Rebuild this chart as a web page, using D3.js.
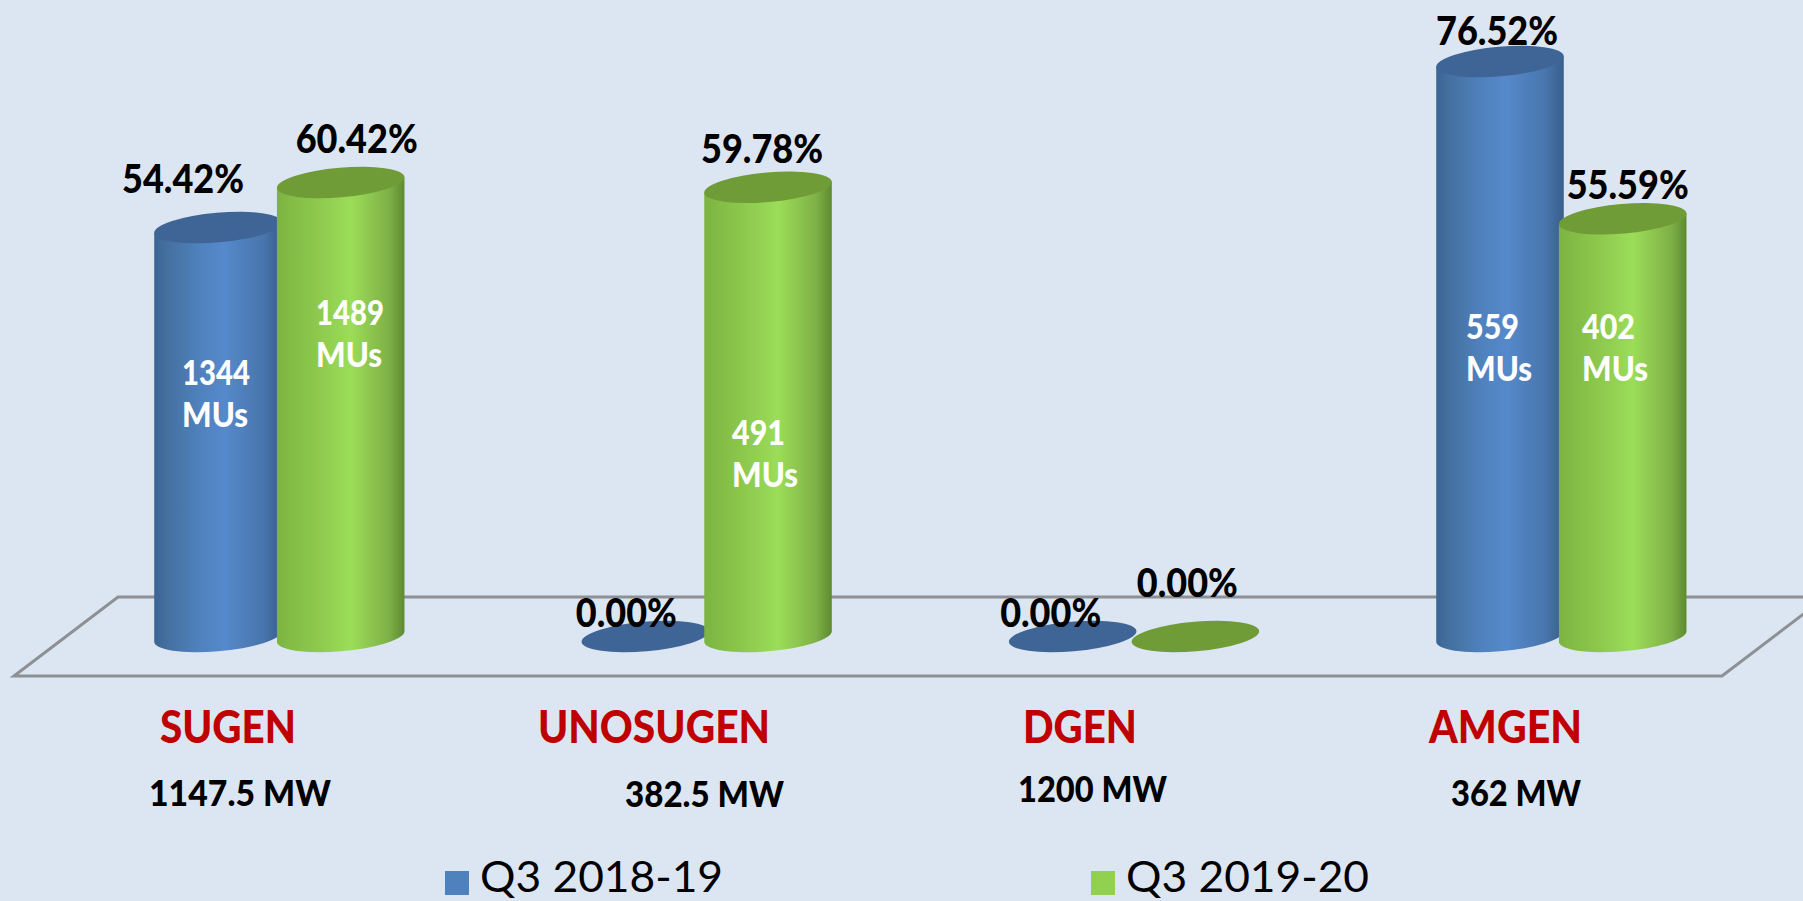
<!DOCTYPE html>
<html>
<head>
<meta charset="utf-8">
<script src="https://cdn.jsdelivr.net/npm/d3@7"></script>
<style>
html, body { margin: 0; padding: 0; background: #dce6f2; overflow: hidden; }
text { font-family: Lato, "Open Sans", sans-serif; }
</style>
</head>
<body>
<div id="chart"></div>
<script>
// data
const categories = ["SUGEN", "UNOSUGEN", "DGEN", "AMGEN"];
const capacities = ["1147.5 MW", "382.5 MW", "1200 MW", "362 MW"];
const seriesNames = ["Q3 2018-19", "Q3 2019-20"];
const plf2018 = [54.42, 0, 0, 76.52];
const plf2019 = [60.42, 59.78, 0, 55.59];
const mus2018 = [1344, null, null, 559];
const mus2019 = [1489, 491, null, 402];

// hand placed labels, the source slide has them off centre
const pctNudge = [
    [[-35, -35], [-19, -9.5], [-22, -9.5], [-3, -17]],
    [[16, -30], [-6, -24], [-8, -39.5], [5, -19.5]]
];
const muAt = [
    [[182, 385], null, null, [1466, 339]],
    [[316, 325], [732, 445], null, [1582, 339]]
];
const catAt = [[160, 743], [538, 743], [1023, 743], [1429, 743]];
const catWidth = [136, 232, 114, 153];
const capAt = [[149, 806], [625, 807], [1018, 802], [1451, 806]];
const capWidth = [182, 159, 149, 130];

const width = 1803, height = 901;

const x = d3.scalePoint().domain(categories).range([218, 1500]);
const offset = d3.scalePoint().domain(seriesNames).range([0, 122.7]);
const y = d3.scaleLinear().domain([0, 80]).range([636.5, 35.4]);

const colors = {
    [seriesNames[0]]: { key: "#4f81bd", top: "#3e6595" },
    [seriesNames[1]]: { key: "#92d050", top: "#709c38" }
};

// tilted ellipse used for the cylinder ends
const rx = 64, ry = 14.8, tiltDeg = 5;
const tilt = tiltDeg * Math.PI / 180;
const cos = Math.cos(tilt), sin = Math.sin(tilt);
const halfW = Math.sqrt(rx * rx * cos * cos + ry * ry * sin * sin);
const edgeY = (rx * rx - ry * ry) * sin * cos / halfW;

const svg = d3.select("#chart").append("svg")
    .attr("width", width)
    .attr("height", height)
    .style("display", "block");

const defs = svg.append("defs");

function addGradient(id, stops) {
    defs.append("linearGradient")
        .attr("id", id)
        .selectAll("stop")
        .data(stops)
        .join("stop")
        .attr("offset", d => d[0])
        .attr("stop-color", d => d[1]);
}
addGradient("body0", [[0, "#3a6494"], [0.1, "#44709f"], [0.35, "#4f81bd"], [0.55, "#5689cb"], [0.85, "#4876ad"], [1, "#385f8d"]]);
addGradient("body1", [[0, "#7cb342"], [0.1, "#82bb45"], [0.35, "#8fcb4f"], [0.58, "#9bdd58"], [0.88, "#7fb047"], [1, "#5d8a30"]]);

defs.append("filter").attr("id", "soft")
    .attr("x", "-5%").attr("y", "-5%").attr("width", "110%").attr("height", "110%")
    .append("feGaussianBlur").attr("stdDeviation", 0.5);

// floor of the 3d plot
svg.append("path")
    .attr("d", "M14,676L118,597L1826,597L1722,676Z")
    .attr("fill", "none")
    .attr("stroke", "#8d9196")
    .attr("stroke-width", 3)
    .attr("filter", "url(#soft)");

const rows = seriesNames.map((name, s) => {
    const vals = s === 0 ? plf2018 : plf2019;
    return categories.map((cat, c) => ({ name, s, c, cat, value: vals[c] }));
}).flat();

const bars = svg.selectAll(".bar")
    .data(rows)
    .join("g")
    .attr("class", "bar")
    .attr("transform", d => `translate(${x(d.cat) + offset(d.name)},0)`);

bars.filter(d => d.value > 0)
    .append("path")
    .attr("fill", d => `url(#body${d.s})`)
    .attr("d", d => {
        const top = y(d.value), base = y(0);
        return `M${-halfW},${top + edgeY}L${-halfW},${base + edgeY}` +
            `A${rx},${ry} ${-tiltDeg} 0 0 ${halfW},${base - edgeY}` +
            `L${halfW},${top - edgeY}Z`;
    });

bars.append("ellipse")
    .attr("cx", 0)
    .attr("cy", d => y(d.value))
    .attr("rx", rx)
    .attr("ry", ry)
    .attr("transform", d => `rotate(${-tiltDeg} 0 ${y(d.value)})`)
    .attr("fill", d => colors[d.name].top);

// Lato is wider than the slide font, so force each text to the measured width
function fit(sel, w) {
    sel.attr("textLength", w).attr("lengthAdjust", "spacingAndGlyphs");
}

svg.selectAll(".pct")
    .data(rows)
    .join("text")
    .attr("class", "pct")
    .attr("x", d => x(d.cat) + offset(d.name) + pctNudge[d.s][d.c][0])
    .attr("y", d => y(d.value) + pctNudge[d.s][d.c][1])
    .attr("text-anchor", "middle")
    .attr("font-size", 40)
    .attr("font-weight", 900)
    .attr("fill", "#000")
    .text(d => d.value.toFixed(2) + "%")
    .call(fit, d => d.value > 0 ? 122 : 101);

const muRows = rows.filter(d => (d.s === 0 ? mus2018 : mus2019)[d.c] !== null);
const muLabels = svg.selectAll(".mu")
    .data(muRows)
    .join("g")
    .attr("class", "mu")
    .attr("fill", "#fff")
    .attr("font-size", 34)
    .attr("font-weight", 900);
muLabels.append("text")
    .attr("x", d => muAt[d.s][d.c][0])
    .attr("y", d => muAt[d.s][d.c][1])
    .text(d => (d.s === 0 ? mus2018 : mus2019)[d.c])
    .call(fit, d => (d.s === 0 ? mus2018 : mus2019)[d.c] > 999 ? 68 : 53);
muLabels.append("text")
    .attr("x", d => muAt[d.s][d.c][0])
    .attr("y", d => muAt[d.s][d.c][1] + 42)
    .text("MUs")
    .call(fit, 66);

svg.selectAll(".cat")
    .data(categories)
    .join("text")
    .attr("class", "cat")
    .attr("x", (d, i) => catAt[i][0])
    .attr("y", (d, i) => catAt[i][1])
    .attr("font-size", 46)
    .attr("font-weight", 900)
    .attr("fill", "#c00000")
    .text(d => d)
    .call(fit, (d, i) => catWidth[i]);

svg.selectAll(".cap")
    .data(capacities)
    .join("text")
    .attr("class", "cap")
    .attr("x", (d, i) => capAt[i][0])
    .attr("y", (d, i) => capAt[i][1])
    .attr("font-size", 36)
    .attr("font-weight", 900)
    .attr("fill", "#000")
    .text(d => d)
    .call(fit, (d, i) => capWidth[i]);

// legend
const legend = svg.selectAll(".legend")
    .data(seriesNames)
    .join("g")
    .attr("class", "legend")
    .attr("transform", (d, i) => `translate(${[445, 1091][i]},871)`);
legend.append("rect")
    .attr("width", 24)
    .attr("height", 24)
    .attr("fill", d => colors[d].key);
legend.append("text")
    .attr("x", 35)
    .attr("y", 21)
    .attr("font-size", 42)
    .attr("fill", "#000")
    .text(d => d)
    .call(fit, 243);
</script>
</body>
</html>
